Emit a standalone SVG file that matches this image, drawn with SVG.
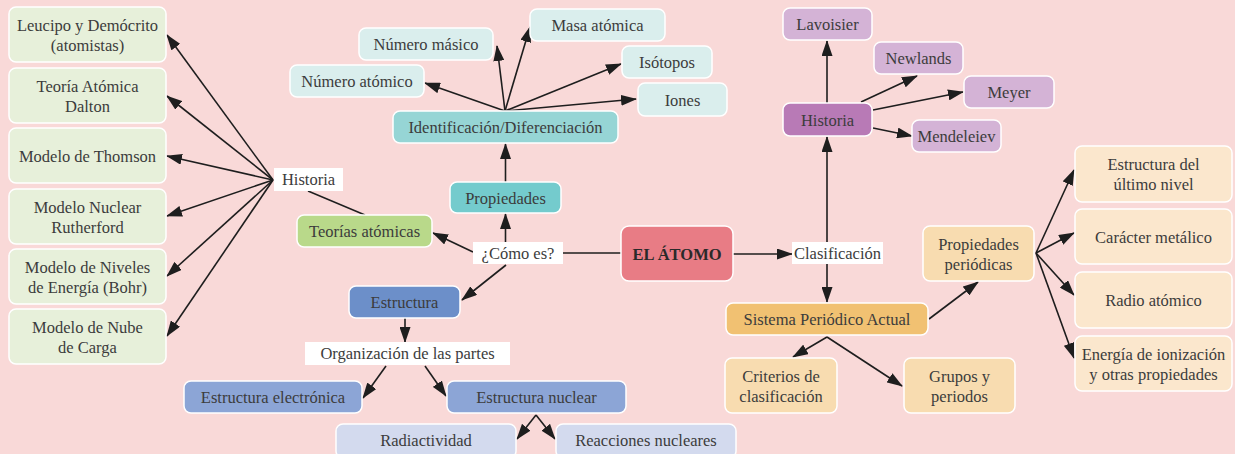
<svg xmlns="http://www.w3.org/2000/svg" width="1235" height="454" viewBox="0 0 1235 454">
<defs>
<marker id="arr" markerUnits="userSpaceOnUse" markerWidth="16" markerHeight="11" refX="15" refY="5.5" orient="auto">
<path d="M0,0 L16,5.5 L0,11 z" fill="#1e1e1e"/>
</marker>
<style>
.b{stroke:#ffffff;stroke-width:1.5}
.lab{fill:#ffffff}
text{font-family:"Liberation Serif","Times New Roman",serif;font-size:16.5px;fill:#3c3c3c;text-anchor:middle}
.bold{font-weight:bold;fill:#2a2a2a}
.c line{stroke:#1e1e1e;stroke-width:1.6}
.a{marker-end:url(#arr)}
.g1{fill:#e7f0da}.g2{fill:#b9d98a}
.t1{fill:#daeeed}.t2{fill:#96d5d5}.t3{fill:#74cbcd}
.r1{fill:#e87c85}
.u1{fill:#6c8fc9}.u2{fill:#8ca5d6}.u3{fill:#d3daee}
.p1{fill:#d4b3d6}.p2{fill:#b87ab6}
.o1{fill:#f1c172}.o2{fill:#f8dcb0}.o3{fill:#fbe7cd}
</style>
</defs>
<rect x="0" y="0" width="1235" height="454" fill="#f9d9d8"/>

<g class="c">
<line class="a" x1="273" y1="180" x2="167" y2="35"/>
<line class="a" x1="273" y1="180" x2="167" y2="96"/>
<line class="a" x1="273" y1="180" x2="167" y2="156"/>
<line class="a" x1="273" y1="180" x2="167" y2="216"/>
<line class="a" x1="273" y1="180" x2="167" y2="276"/>
<line class="a" x1="273" y1="180" x2="167" y2="336"/>
<line x1="365" y1="215" x2="308" y2="191"/>
<line class="a" x1="473" y1="252" x2="433" y2="233"/>
<line class="a" x1="505.5" y1="242" x2="505.5" y2="214"/>
<line class="a" x1="505.5" y1="182" x2="505.5" y2="144"/>
<line class="a" x1="505" y1="111" x2="425" y2="83"/>
<line class="a" x1="505" y1="111" x2="497" y2="46"/>
<line class="a" x1="505" y1="111" x2="530" y2="27"/>
<line class="a" x1="505" y1="111" x2="621" y2="64"/>
<line class="a" x1="505" y1="111" x2="636" y2="99"/>
<line x1="563" y1="253" x2="621" y2="253"/>
<line class="a" x1="506" y1="265" x2="462" y2="300"/>
<line class="a" x1="405" y1="318" x2="405" y2="342"/>
<line class="a" x1="386" y1="366" x2="363" y2="398"/>
<line class="a" x1="425" y1="366" x2="446" y2="396"/>
<line class="a" x1="536" y1="415" x2="517" y2="439"/>
<line class="a" x1="536" y1="415" x2="555" y2="439"/>
<line class="a" x1="733" y1="254" x2="792" y2="254"/>
<line class="a" x1="827" y1="242" x2="827" y2="137"/>
<line class="a" x1="827" y1="264" x2="827" y2="302"/>
<line class="a" x1="827" y1="103" x2="827" y2="41"/>
<line class="a" x1="861" y1="102" x2="917" y2="76"/>
<line class="a" x1="873" y1="110" x2="963" y2="92"/>
<line class="a" x1="873" y1="128" x2="912" y2="136"/>
<line class="a" x1="929" y1="319" x2="978" y2="282"/>
<line class="a" x1="1036" y1="253" x2="1074" y2="170"/>
<line class="a" x1="1036" y1="253" x2="1074" y2="233"/>
<line class="a" x1="1036" y1="253" x2="1074" y2="295"/>
<line class="a" x1="1036" y1="253" x2="1074" y2="358"/>
<line class="a" x1="827" y1="337" x2="793" y2="357"/>
<line class="a" x1="827" y1="337" x2="902" y2="386"/>
</g>

<g id="n_leucipo"><rect class="b g1" x="9" y="7" width="157" height="55" rx="7"/><text x="87.5" y="31">Leucipo y Demócrito</text><text x="87.5" y="51">(atomistas)</text></g>
<g id="n_dalton"><rect class="b g1" x="9" y="68" width="157" height="55" rx="7"/><text x="87.5" y="91.5">Teoría Atómica</text><text x="87.5" y="111.5">Dalton</text></g>
<g id="n_thomson"><rect class="b g1" x="9" y="128" width="157" height="55" rx="7"/><text x="87.5" y="161.5">Modelo de Thomson</text></g>
<g id="n_rutherford"><rect class="b g1" x="9" y="189" width="157" height="55" rx="7"/><text x="87.5" y="212.5">Modelo Nuclear</text><text x="87.5" y="232.5">Rutherford</text></g>
<g id="n_bohr"><rect class="b g1" x="9" y="249" width="157" height="55" rx="7"/><text x="87.5" y="272.5">Modelo de Niveles</text><text x="87.5" y="292.5">de Energía (Bohr)</text></g>
<g id="n_nube"><rect class="b g1" x="9" y="309" width="157" height="55" rx="7"/><text x="87.5" y="332.5">Modelo de Nube</text><text x="87.5" y="352.5">de Carga</text></g>

<g id="l_historia"><rect class="lab" x="274" y="168" width="69" height="23"/><text x="308.5" y="185">Historia</text></g>
<g id="n_teorias"><rect class="b g2" x="297" y="215" width="135" height="32" rx="7"/><text x="364.5" y="237">Teorías atómicas</text></g>
<g id="l_como"><rect class="lab" x="473" y="242" width="90" height="22"/><text x="518" y="259">¿Cómo es?</text></g>
<g id="n_propiedades"><rect class="b t3" x="450" y="182" width="111" height="31" rx="7"/><text x="505.5" y="203.5">Propiedades</text></g>
<g id="n_ident"><rect class="b t2" x="393" y="111" width="225" height="32" rx="7"/><text x="505.5" y="133">Identificación/Diferenciación</text></g>
<g id="n_numat"><rect class="b t1" x="290" y="65" width="134" height="32" rx="7"/><text x="357" y="87">Número atómico</text></g>
<g id="n_nummas"><rect class="b t1" x="359" y="28" width="134" height="32" rx="7"/><text x="426" y="50">Número másico</text></g>
<g id="n_masa"><rect class="b t1" x="530" y="9" width="135" height="32" rx="7"/><text x="597.5" y="31">Masa atómica</text></g>
<g id="n_isotopos"><rect class="b t1" x="622" y="46" width="90" height="32" rx="7"/><text x="667" y="68">Isótopos</text></g>
<g id="n_iones"><rect class="b t1" x="638" y="83" width="89" height="33" rx="7"/><text x="682.5" y="105.5">Iones</text></g>

<g id="n_atomo"><rect class="b r1" x="621" y="226" width="112" height="55" rx="8"/><text class="bold" x="677" y="259.5">EL ÁTOMO</text></g>

<g id="n_estructura"><rect class="b u1" x="349" y="286" width="111" height="32" rx="7"/><text x="404.5" y="308">Estructura</text></g>
<g id="l_organizacion"><rect class="lab" x="305" y="342" width="205" height="23"/><text x="407.5" y="359">Organización de las partes</text></g>
<g id="n_electronica"><rect class="b u2" x="184" y="381" width="178" height="32" rx="7"/><text x="273" y="403">Estructura electrónica</text></g>
<g id="n_nuclear"><rect class="b u2" x="447" y="381" width="179" height="32" rx="7"/><text x="536.5" y="403">Estructura nuclear</text></g>
<g id="n_radiactividad"><rect class="b u3" x="336" y="424" width="180" height="34" rx="7"/><text x="426" y="446">Radiactividad</text></g>
<g id="n_reacciones"><rect class="b u3" x="556" y="424" width="180" height="34" rx="7"/><text x="646" y="446">Reacciones nucleares</text></g>

<g id="n_lavoisier"><rect class="b p1" x="783" y="8" width="89" height="32" rx="7"/><text x="827.5" y="30">Lavoisier</text></g>
<g id="n_newlands"><rect class="b p1" x="874" y="42" width="89" height="32" rx="7"/><text x="918.5" y="64">Newlands</text></g>
<g id="n_meyer"><rect class="b p1" x="964" y="76" width="90" height="32" rx="7"/><text x="1009" y="98">Meyer</text></g>
<g id="n_historia2"><rect class="b p2" x="783" y="103" width="89" height="33" rx="7"/><text x="827.5" y="125.5">Historia</text></g>
<g id="n_mendeleiev"><rect class="b p1" x="912" y="120" width="89" height="32" rx="7"/><text x="956.5" y="142">Mendeleiev</text></g>

<g id="l_clasificacion"><rect class="lab" x="792" y="242" width="91" height="22"/><text x="837.5" y="259">Clasificación</text></g>
<g id="n_sistema"><rect class="b o1" x="726" y="303" width="202" height="32" rx="7"/><text x="827" y="325">Sistema Periódico Actual</text></g>
<g id="n_propper"><rect class="b o2" x="923" y="226" width="111" height="55" rx="7"/><text x="978.5" y="249.5">Propiedades</text><text x="978.5" y="269.5">periódicas</text></g>
<g id="n_criterios"><rect class="b o2" x="725" y="358" width="112" height="55" rx="7"/><text x="781" y="381.5">Criterios de</text><text x="781" y="401.5">clasificación</text></g>
<g id="n_grupos"><rect class="b o2" x="904" y="358" width="111" height="55" rx="7"/><text x="959.5" y="381.5">Grupos y</text><text x="959.5" y="401.5">periodos</text></g>

<g id="n_ultimo"><rect class="b o3" x="1075" y="146" width="157" height="56" rx="7"/><text x="1153.5" y="170">Estructura del</text><text x="1153.5" y="190">último nivel</text></g>
<g id="n_caracter"><rect class="b o3" x="1075" y="209" width="157" height="55" rx="7"/><text x="1153.5" y="242.5">Carácter metálico</text></g>
<g id="n_radio"><rect class="b o3" x="1075" y="272" width="157" height="56" rx="7"/><text x="1153.5" y="306">Radio atómico</text></g>
<g id="n_energia"><rect class="b o3" x="1075" y="336" width="157" height="55" rx="7"/><text x="1153.5" y="359.5">Energía de ionización</text><text x="1153.5" y="379.5">y otras propiedades</text></g>
</svg>
